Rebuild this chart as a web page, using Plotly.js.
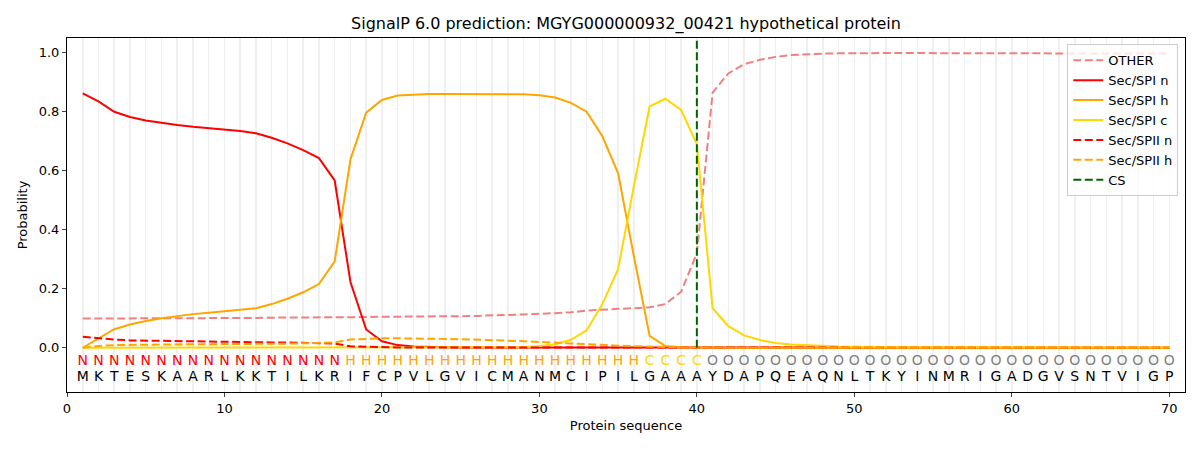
<!DOCTYPE html>
<html>
<head>
<meta charset="utf-8">
<script src="https://cdn.plot.ly/plotly-3.0.1.min.js"></script>
<style>body{margin:0;background:#fff}</style>
</head>
<body>
<div id="grafSignalP" style="width:1200px;height:450px"></div>
<script>
// residue sequence and region labels
var sequence = "MKTESKAARLKKTILKRIFCPVLGVICMANMCIPILGAAAYDAPQEAQNLTKYINMRIGADGVSNTVIGP".split("");
var regions = "NNNNNNNNNNNNNNNNNHHHHHHHHHHHHHHHHHHHCCCCOOOOOOOOOOOOOOOOOOOOOOOOOOOOOO".split("");
var cleavageSite = 40;

var other = [0.099,0.099,0.099,0.099,0.1,0.1,0.1,0.1,0.1,0.101,
    0.101,0.101,0.102,0.102,0.102,0.103,0.103,0.104,0.104,0.105,
    0.105,0.106,0.106,0.107,0.107,0.108,0.109,0.111,0.113,0.115,
    0.117,0.12,0.126,0.13,0.132,0.134,0.137,0.148,0.19,0.32,
    0.865,0.93,0.961,0.976,0.986,0.992,0.995,0.997,0.998,0.999,
    0.999,0.999,0.999,0.999,0.999,0.999,0.999,0.999,0.998,0.998,
    0.998,0.998,0.998,0.998,0.997,0.997,0.997,0.997,0.997,0.997];
var spiN = [0.862,0.835,0.8,0.782,0.77,0.762,0.755,0.749,0.744,0.739,
    0.735,0.727,0.712,0.693,0.67,0.643,0.567,0.223,0.062,0.022,
    0.009,0.004,0.002,0.002,0.001,0.001,0.001,0.001,0.001,0.001,
    0.001,0.001,0.001,0.001,0.001,0.001,0.001,0.001,0.001,0.001,
    0,0,0,0,0,0,0,0,0,0,
    0,0,0,0,0,0,0,0,0,0,
    0,0,0,0,0,0,0,0,0,0];
var spiH = [0,0.032,0.063,0.079,0.091,0.1,0.108,0.114,0.119,0.124,
    0.128,0.134,0.148,0.166,0.188,0.216,0.293,0.638,0.797,0.84,
    0.855,0.858,0.86,0.86,0.86,0.86,0.86,0.86,0.859,0.856,
    0.848,0.83,0.8,0.717,0.591,0.31,0.04,0.006,0.002,0.001,
    0,0,0,0,0,0,0,0,0,0,
    0,0,0,0,0,0,0,0,0,0,
    0,0,0,0,0,0,0,0,0,0];
var spiC = [0,0,0,0,0,0,0,0,0,0,
    0,0,0,0,0,0,0,0,0,0,
    0,0,0,0,0.001,0.001,0.001,0.001,0.002,0.006,
    0.012,0.027,0.059,0.148,0.267,0.548,0.818,0.844,0.806,0.69,
    0.134,0.073,0.042,0.026,0.016,0.011,0.008,0.005,0.004,0.003,
    0.002,0.002,0.002,0.002,0.002,0.001,0.001,0.001,0.001,0.001,
    0.001,0.001,0.001,0.001,0.001,0.001,0.001,0.001,0.001,0.001];
var spiiN = [0.037,0.032,0.028,0.025,0.024,0.023,0.022,0.021,0.021,0.02,
    0.02,0.019,0.018,0.018,0.017,0.016,0.014,0.005,0.003,0.002,
    0.001,0.001,0.001,0.001,0.001,0.001,0.001,0.001,0.001,0.001,
    0.001,0.001,0.001,0.001,0.001,0,0,0,0,0,
    0,0,0,0,0,0,0,0,0,0,
    0,0,0,0,0,0,0,0,0,0,
    0,0,0,0,0,0,0,0,0,0];
var spiiH = [0,0.006,0.009,0.01,0.011,0.011,0.011,0.012,0.012,0.012,
    0.012,0.013,0.013,0.014,0.015,0.016,0.018,0.028,0.031,0.032,
    0.032,0.032,0.031,0.03,0.029,0.028,0.026,0.024,0.022,0.02,
    0.018,0.015,0.012,0.01,0.007,0.005,0.003,0.002,0.001,0.001,
    0,0,0,0,0,0,0,0,0,0,
    0,0,0,0,0,0,0,0,0,0,
    0,0,0,0,0,0,0,0,0,0];

var pos = sequence.map(function(a, i){ return i + 1; });
var regionColor = {N: "#ff0000", H: "#ffa500", C: "#ffd700", O: "#808080"};
var dashStyle = "8px,3.5px";

function line(name, y, color, dash){
    return {x: pos, y: y, mode: "lines", name: name,
        line: {color: color, width: 2, dash: dash || "solid"}};
}

var data = [
    line("OTHER", other, "#f08080", dashStyle),
    line("Sec/SPI n", spiN, "#ff0000"),
    line("Sec/SPI h", spiH, "#ffa500"),
    line("Sec/SPI c", spiC, "#ffd700"),
    line("Sec/SPII n", spiiN, "#ff0000", dashStyle),
    line("Sec/SPII h", spiiH, "#ffa500", dashStyle),
    {x: [cleavageSite, cleavageSite], y: [0, 1.05], mode: "lines", name: "CS",
        line: {color: "#006400", width: 2, dash: dashStyle}},
    {x: pos, y: pos.map(function(){ return -0.047; }), mode: "text", text: regions,
        showlegend: false, hoverinfo: "skip",
        textfont: {family: "DejaVu Sans", size: 14, color: regions.map(function(r){ return regionColor[r]; })}},
    {x: pos, y: pos.map(function(){ return -0.1; }), mode: "text", text: sequence,
        showlegend: false, hoverinfo: "skip",
        textfont: {family: "DejaVu Sans", size: 14, color: "#000000"}}
];

var layout = {
    width: 1200, height: 450,
    margin: {l: 67, r: 15, t: 38, b: 58},
    paper_bgcolor: "#ffffff", plot_bgcolor: "#ffffff",
    font: {family: "DejaVu Sans", size: 13, color: "#000000"},
    title: {text: "SignalP 6.0 prediction: MGYG000000932_00421 hypothetical protein",
        font: {size: 16}, x: 0.5, xref: "paper", y: 0.948, yanchor: "middle"},
    xaxis: {range: [0, 71], tick0: 0, dtick: 10, ticks: "outside", ticklen: 4,
        showgrid: true, gridcolor: "#efefef", gridwidth: 1.5,
        minor: {dtick: 1, tick0: 0, showgrid: true, gridcolor: "#efefef", gridwidth: 1.5},
        showline: true, mirror: true, linecolor: "#000000", linewidth: 1,
        zeroline: false, title: {text: "Protein sequence", font: {size: 13}, standoff: 6}},
    yaxis: {range: [-0.15, 1.05], tick0: 0, dtick: 0.2, tickformat: ".1f",
        ticks: "outside", ticklen: 4, showgrid: false, zeroline: false,
        showline: true, mirror: true, linecolor: "#000000", linewidth: 1,
        title: {text: "Probability", font: {size: 13}, standoff: 8}},
    legend: {x: 0.994, y: 0.982, xanchor: "right", yanchor: "top",
        bgcolor: "rgba(255,255,255,0.8)", bordercolor: "#cccccc", borderwidth: 1,
        font: {size: 13}, tracegroupgap: 0},
    showlegend: true
};

Plotly.newPlot("grafSignalP", data, layout, {displayModeBar: false, staticPlot: true});
</script>
</body>
</html>
